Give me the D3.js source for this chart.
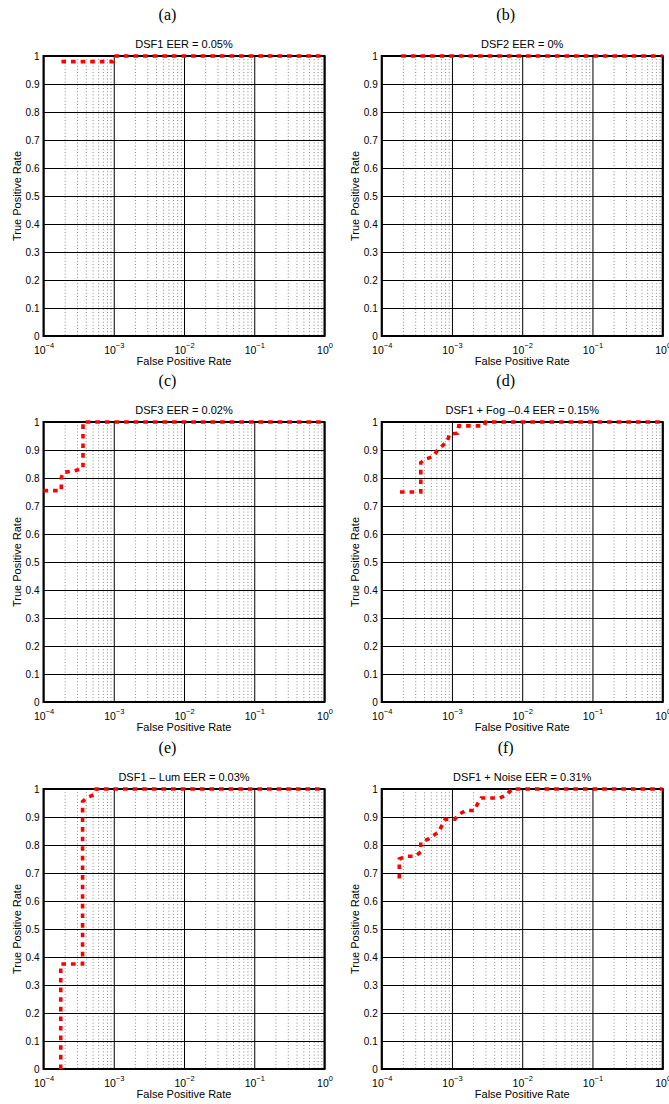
<!DOCTYPE html>
<html>
<head>
<meta charset="utf-8">
<script src="https://cdn.jsdelivr.net/npm/d3@7"></script>
<style>
  body { margin: 0; background: #fff; }
  text { font-family: "Liberation Sans", Arial, sans-serif; fill: #000; }
</style>
</head>
<body>
<script>
// panel labels and titles
var letters = ["(a)", "(b)", "(c)", "(d)", "(e)", "(f)"];
var titles = ["DSF1 EER = 0.05%", "DSF2 EER = 0%", "DSF3 EER = 0.02%",
              "DSF1 + Fog \u20130.4 EER = 0.15%", "DSF1 \u2013 Lum EER = 0.03%", "DSF1 + Noise EER = 0.31%"];

// ROC curves (false positive rate, true positive rate)
var fprA = [1.8e-4, 9.7e-4, 1e-3, 1];
var tprA = [0.98, 0.98, 1, 1];
var fprB = [1.9e-4, 1];
var tprB = [1, 1];
var fprC = [1e-4, 1.79e-4, 1.79e-4, 1.9e-4, 2.7e-4, 3.4e-4, 3.65e-4, 3.65e-4, 1];
var tprC = [0.755, 0.755, 0.80, 0.82, 0.825, 0.832, 0.835, 1, 1];
var fprD = [1.82e-4, 3.6e-4, 3.6e-4, 4.3e-4, 5.3e-4, 6.2e-4, 7.3e-4, 8.6e-4, 9.2e-4, 1.2e-3, 1.25e-3, 2.9e-3, 3e-3, 1];
var tprD = [0.75, 0.75, 0.855, 0.868, 0.876, 0.898, 0.915, 0.93, 0.956, 0.96, 0.986, 0.986, 1, 1];
var fprE = [1.76e-4, 1.76e-4, 3.6e-4, 3.6e-4, 4.2e-4, 5.3e-4, 5.6e-4, 1];
var tprE = [0, 0.375, 0.375, 0.955, 0.97, 0.98, 1, 1];
var fprF = [1.78e-4, 1.78e-4, 2.2e-4, 3.0e-4, 3.6e-4, 3.6e-4, 4.5e-4, 5.4e-4, 6.5e-4, 7.2e-4, 8.0e-4, 1.1e-3,
            1.26e-3, 1.57e-3, 2.1e-3, 2.3e-3, 2.6e-3, 3.6e-3, 4.8e-3, 6.0e-3, 7.1e-3, 1];
var tprF = [0.68, 0.75, 0.76, 0.76, 0.775, 0.81, 0.82, 0.833, 0.847, 0.87, 0.892, 0.892,
            0.91, 0.923, 0.923, 0.946, 0.968, 0.968, 0.968, 0.979, 1, 1];

var xTicks = [1e-4, 1e-3, 1e-2, 1e-1, 1];
var xExps = ["\u22124", "\u22123", "\u22122", "\u22121", "0"];
var yTicks = [0, 0.1, 0.2, 0.3, 0.4, 0.5, 0.6, 0.7, 0.8, 0.9, 1];

var curves = [[fprA, tprA], [fprB, tprB], [fprC, tprC], [fprD, tprD], [fprE, tprE], [fprF, tprF]];

var width = 669, height = 1104,
    plotW = 281, plotH = 280,
    colX = [43.5, 381.7],
    rowY = [56, 422, 789];

var minorTicks = [];
d3.range(-4, 0).forEach(function (k) {
    d3.range(2, 10).forEach(function (m) { minorTicks.push(m * Math.pow(10, k)); });
});

var svg = d3.select("body").append("svg")
    .attr("width", width)
    .attr("height", height);

var x = d3.scaleLog().domain([1e-4, 1]).range([0, plotW]);
var y = d3.scaleLinear().domain([0, 1]).range([plotH, 0]);

curves.forEach(function (c, i) {
    var g = svg.append("g")
        .attr("transform", "translate(" + colX[i % 2] + "," + rowY[Math.floor(i / 2)] + ")");

    // minor grid (dotted)
    g.append("g")
        .call(d3.axisBottom(x).tickValues(minorTicks).tickSize(plotH).tickFormat(""))
        .call(function (a) { a.select(".domain").remove(); })
        .selectAll("line")
        .attr("stroke", "#8a8a8a")
        .attr("stroke-width", 1)
        .attr("stroke-dasharray", "1,2.2");

    // major grid
    g.append("g")
        .call(d3.axisBottom(x).tickValues(xTicks).tickSize(plotH).tickFormat(""))
        .call(function (a) { a.select(".domain").remove(); })
        .selectAll("line").attr("stroke", "#000").attr("stroke-width", 1);
    g.append("g")
        .call(d3.axisRight(y).tickValues(yTicks).tickSize(plotW).tickFormat(""))
        .call(function (a) { a.select(".domain").remove(); })
        .selectAll("line").attr("stroke", "#000").attr("stroke-width", 1);

    // box
    g.append("rect")
        .attr("width", plotW).attr("height", plotH)
        .attr("fill", "none").attr("stroke", "#000").attr("stroke-width", 2);

    // y tick labels
    var ya = g.append("g")
        .call(d3.axisLeft(y).tickValues(yTicks).tickSize(0).tickPadding(4)
            .tickFormat(function (d) { return d === 0 ? "0" : d === 1 ? "1" : d3.format(".1f")(d); }));
    ya.select(".domain").remove();
    ya.selectAll("text").attr("font-size", 10).attr("font-family", null);

    // x tick labels as 10^k
    var xa = g.append("g")
        .attr("transform", "translate(0," + plotH + ")")
        .call(d3.axisBottom(x).tickValues(xTicks).tickSize(0).tickFormat(""));
    xa.select(".domain").remove();
    xa.selectAll(".tick text").remove();
    xa.selectAll(".tick").append("text")
        .attr("y", 17.5)
        .attr("text-anchor", "middle")
        .attr("font-size", 10.5)
        .each(function (d, j) {
            var t = d3.select(this);
            t.append("tspan").text("10");
            t.append("tspan").attr("dy", -6).attr("font-size", 7.5).text(xExps[j]);
        });

    // curve
    var line = d3.line()
        .x(function (d) { return x(d[0]); })
        .y(function (d) { return y(d[1]); });
    g.append("path")
        .datum(c[0].map(function (f, j) { return [f, c[1][j]]; }))
        .attr("d", line)
        .attr("fill", "none")
        .attr("stroke", "#ff0000")
        .attr("stroke-width", 3.6)
        .attr("stroke-dasharray", "4.6,5");

    // labels
    g.append("text")
        .attr("x", plotW / 2).attr("y", plotH + 28.5)
        .attr("text-anchor", "middle").attr("font-size", 11)
        .text("False Positive Rate");
    g.append("text")
        .attr("transform", "translate(-23," + (plotH / 2) + ") rotate(-90)")
        .attr("text-anchor", "middle").attr("font-size", 11)
        .text("True Positive Rate");
    g.append("text")
        .attr("x", plotW / 2).attr("y", -8.5)
        .attr("text-anchor", "middle").attr("font-size", 11)
        .text(titles[i]);
    g.append("text")
        .attr("x", 124).attr("y", -36.5)
        .attr("text-anchor", "middle").attr("font-size", 16)
        .style("font-family", "'Liberation Serif', 'Times New Roman', serif")
        .text(letters[i]);
});
</script>
</body>
</html>
